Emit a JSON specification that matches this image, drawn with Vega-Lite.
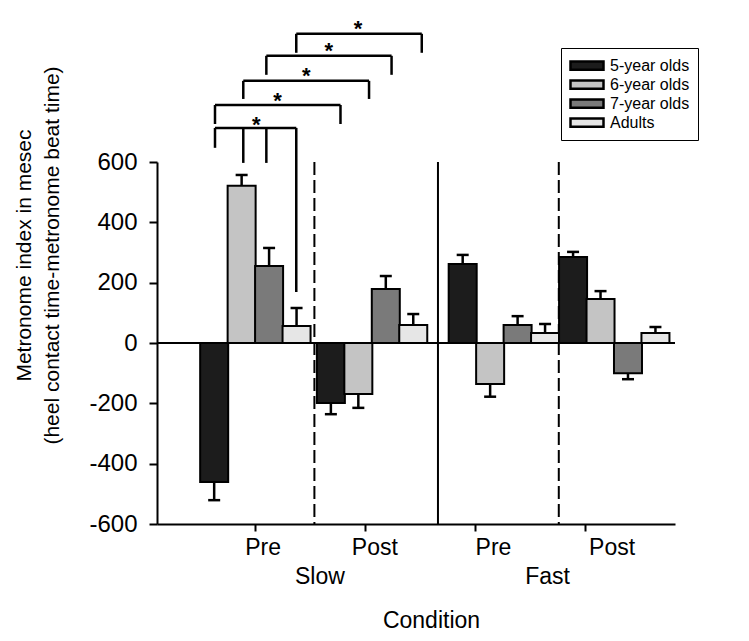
{
  "$schema": "https://vega.github.io/schema/vega-lite/v6.json",
  "width": 518,
  "height": 362,
  "autosize": {"type": "none"},
  "padding": {"left": 157, "top": 162, "right": 74, "bottom": 117},
  "background": "white",
  "config": {
    "view": {"stroke": null},
    "font": "Liberation Sans",
    "text": {"font": "Liberation Sans", "color": "black"}
  },
  "datasets": {
    "bars": [
      {"condition": "Slow", "phase": "Pre", "group": "5-year olds", "pos": 1, "value": -461, "errEnd": -521},
      {"condition": "Slow", "phase": "Pre", "group": "6-year olds", "pos": 2, "value": 521, "errEnd": 557},
      {"condition": "Slow", "phase": "Pre", "group": "7-year olds", "pos": 3, "value": 255, "errEnd": 315},
      {"condition": "Slow", "phase": "Pre", "group": "Adults", "pos": 4, "value": 56, "errEnd": 116},
      {"condition": "Slow", "phase": "Post", "group": "5-year olds", "pos": 5.25, "value": -199, "errEnd": -236},
      {"condition": "Slow", "phase": "Post", "group": "6-year olds", "pos": 6.25, "value": -169, "errEnd": -215},
      {"condition": "Slow", "phase": "Post", "group": "7-year olds", "pos": 7.25, "value": 179, "errEnd": 222},
      {"condition": "Slow", "phase": "Post", "group": "Adults", "pos": 8.25, "value": 60, "errEnd": 96},
      {"condition": "Fast", "phase": "Pre", "group": "5-year olds", "pos": 10.05, "value": 262, "errEnd": 292},
      {"condition": "Fast", "phase": "Pre", "group": "6-year olds", "pos": 11.05, "value": -136, "errEnd": -178},
      {"condition": "Fast", "phase": "Pre", "group": "7-year olds", "pos": 12.05, "value": 60, "errEnd": 89},
      {"condition": "Fast", "phase": "Pre", "group": "Adults", "pos": 13.05, "value": 33, "errEnd": 63},
      {"condition": "Fast", "phase": "Post", "group": "5-year olds", "pos": 14.07, "value": 285, "errEnd": 302},
      {"condition": "Fast", "phase": "Post", "group": "6-year olds", "pos": 15.07, "value": 146, "errEnd": 172},
      {"condition": "Fast", "phase": "Post", "group": "7-year olds", "pos": 16.07, "value": -100, "errEnd": -120},
      {"condition": "Fast", "phase": "Post", "group": "Adults", "pos": 17.07, "value": 33, "errEnd": 53}
    ],
    "segments": [
      {"x": 1.03, "x2": 3.99, "y": 713, "y2": 713},
      {"x": 1.03, "x2": 1.03, "y": 713, "y2": 647},
      {"x": 2.06, "x2": 2.06, "y": 713, "y2": 597},
      {"x": 2.9, "x2": 2.9, "y": 713, "y2": 597},
      {"x": 3.99, "x2": 3.99, "y": 713, "y2": 169},
      {"x": 1.03, "x2": 5.6, "y": 789, "y2": 789},
      {"x": 1.03, "x2": 1.03, "y": 789, "y2": 726},
      {"x": 5.6, "x2": 5.6, "y": 789, "y2": 726},
      {"x": 2.06, "x2": 6.64, "y": 869, "y2": 869},
      {"x": 2.06, "x2": 2.06, "y": 869, "y2": 809},
      {"x": 6.64, "x2": 6.64, "y": 869, "y2": 809},
      {"x": 2.9, "x2": 7.46, "y": 952, "y2": 952},
      {"x": 2.9, "x2": 2.9, "y": 952, "y2": 889},
      {"x": 7.46, "x2": 7.46, "y": 952, "y2": 889},
      {"x": 3.99, "x2": 8.56, "y": 1025, "y2": 1025},
      {"x": 3.99, "x2": 3.99, "y": 1025, "y2": 962},
      {"x": 8.56, "x2": 8.56, "y": 1025, "y2": 962}
    ],
    "stars": [
      {"x": 2.53, "y": 740, "label": "*"},
      {"x": 3.31, "y": 819, "label": "*"},
      {"x": 4.35, "y": 902, "label": "*"},
      {"x": 5.17, "y": 985, "label": "*"},
      {"x": 6.24, "y": 1058, "label": "*"}
    ],
    "phaseLabels": [
      {"x": 2.78, "label": "Pre"},
      {"x": 6.85, "label": "Post"},
      {"x": 11.17, "label": "Pre"},
      {"x": 15.49, "label": "Post"}
    ],
    "speedLabels": [
      {"x": 4.85, "label": "Slow"},
      {"x": 13.14, "label": "Fast"}
    ]
  },
  "layer": [
    {
      "data": {"values": [{}]},
      "mark": {"type": "rule", "strokeDash": [13, 5], "strokeWidth": 2, "color": "black"},
      "encoding": {"x": {"datum": 4.65, "type": "quantitative"}}
    },
    {
      "data": {"values": [{}]},
      "mark": {"type": "rule", "strokeWidth": 2, "color": "black"},
      "encoding": {"x": {"datum": 9.15, "type": "quantitative"}}
    },
    {
      "data": {"values": [{}]},
      "mark": {"type": "rule", "strokeDash": [13, 5], "strokeWidth": 2, "color": "black"},
      "encoding": {"x": {"datum": 13.55, "type": "quantitative"}}
    },
    {
      "data": {"name": "bars"},
      "mark": {"type": "bar", "orient": "vertical", "width": 28, "stroke": "black", "strokeWidth": 2},
      "encoding": {
        "x": {
          "field": "pos",
          "type": "quantitative",
          "scale": {"domain": [-0.9, 17.6], "nice": false, "zero": false},
          "axis": {
            "values": [2.5, 6.5, 10.5, 14.5],
            "labels": false,
            "grid": false,
            "title": "Condition",
            "titleFont": "Liberation Sans",
            "titleFontSize": 23,
            "titleFontWeight": "normal",
            "titleColor": "black",
            "titleX": 274,
            "titleY": 103,
            "titleAlign": "center",
            "titleBaseline": "alphabetic",
            "tickSize": 7,
            "tickWidth": 2,
            "tickColor": "black",
            "domainColor": "black",
            "domainWidth": 2
          }
        },
        "y": {
          "field": "value",
          "type": "quantitative",
          "scale": {"domain": [-600, 600], "nice": false},
          "axis": {
            "values": [-600, -400, -200, 0, 200, 400, 600],
            "labelExpr": "toString(datum.value)",
            "grid": false,
            "title": ["Metronome index in mesec", "(heel contact time-metronome beat time)"],
            "titleFont": "Liberation Sans",
            "titleFontSize": 21,
            "titleFontWeight": "normal",
            "titleColor": "black",
            "titleLineHeight": 28,
            "titleAngle": 270,
            "titleX": -123,
            "titleY": 93,
            "titleAlign": "center",
            "titleBaseline": "bottom",
            "labelFont": "Liberation Sans",
            "labelFontSize": 24,
            "labelColor": "black",
            "labelPadding": 12,
            "tickSize": 8,
            "tickWidth": 2,
            "tickColor": "black",
            "domainColor": "black",
            "domainWidth": 2
          }
        },
        "y2": {"datum": 0},
        "fill": {
          "field": "group",
          "type": "nominal",
          "scale": {
            "domain": ["5-year olds", "6-year olds", "7-year olds", "Adults"],
            "range": ["#1c1c1c", "#c4c4c4", "#7a7a7a", "#e6e6e6"]
          },
          "legend": {
            "orient": "none",
            "legendX": 404,
            "legendY": -114,
            "title": null,
            "padding": 8,
            "strokeColor": "black",
            "fillColor": "white",
            "labelFont": "Liberation Sans",
            "labelFontSize": 16,
            "labelColor": "black",
            "labelOffset": 5,
            "symbolType": "M-1,-0.25H1V0.25H-1Z",
            "symbolSize": 1089,
            "symbolStrokeColor": "black",
            "symbolStrokeWidth": 2.5,
            "symbolOpacity": 1,
            "clipHeight": 19,
            "rowPadding": 0
          }
        }
      }
    },
    {
      "data": {"values": [{}]},
      "mark": {"type": "rule", "strokeWidth": 2, "color": "black"},
      "encoding": {"y": {"datum": 0, "type": "quantitative"}}
    },
    {
      "data": {"name": "bars"},
      "mark": {"type": "rule", "strokeWidth": 2.5, "color": "black"},
      "encoding": {
        "x": {"field": "pos", "type": "quantitative"},
        "y": {"field": "value", "type": "quantitative"},
        "y2": {"field": "errEnd"}
      }
    },
    {
      "data": {"name": "bars"},
      "mark": {"type": "point", "shape": "M-1,0H1", "size": 144, "filled": false, "stroke": "black", "strokeWidth": 2.5, "opacity": 1},
      "encoding": {
        "x": {"field": "pos", "type": "quantitative"},
        "y": {"field": "errEnd", "type": "quantitative"}
      }
    },
    {
      "data": {"name": "segments"},
      "mark": {"type": "rule", "strokeWidth": 2.5, "color": "black"},
      "encoding": {
        "x": {"field": "x", "type": "quantitative"},
        "x2": {"field": "x2"},
        "y": {"field": "y", "type": "quantitative"},
        "y2": {"field": "y2"}
      }
    },
    {
      "data": {"name": "stars"},
      "mark": {"type": "text", "fontSize": 22, "fontWeight": "bold", "baseline": "alphabetic", "align": "center", "dy": 12, "color": "black"},
      "encoding": {
        "x": {"field": "x", "type": "quantitative"},
        "y": {"field": "y", "type": "quantitative"},
        "text": {"field": "label"}
      }
    },
    {
      "data": {"name": "phaseLabels"},
      "mark": {"type": "text", "fontSize": 23, "baseline": "alphabetic", "align": "center", "dy": 31, "color": "black"},
      "encoding": {
        "x": {"field": "x", "type": "quantitative"},
        "y": {"datum": -600, "type": "quantitative"},
        "text": {"field": "label"}
      }
    },
    {
      "data": {"name": "speedLabels"},
      "mark": {"type": "text", "fontSize": 23, "baseline": "alphabetic", "align": "center", "dy": 60, "color": "black"},
      "encoding": {
        "x": {"field": "x", "type": "quantitative"},
        "y": {"datum": -600, "type": "quantitative"},
        "text": {"field": "label"}
      }
    }
  ]
}
